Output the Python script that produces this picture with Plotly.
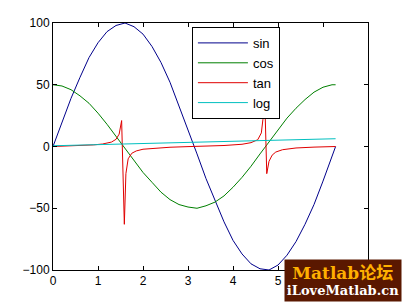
import plotly.graph_objects as go

# sampled x positions for sin / cos curves
x_sc = [0, 0.2, 0.4, 0.6, 0.8, 1.0, 1.2, 1.4, 1.6, 1.8, 2.0, 2.2, 2.4, 2.6, 2.8, 3.0,
        3.2, 3.4, 3.6, 3.8, 4.0, 4.2, 4.4, 4.6, 4.8, 5.0, 5.2, 5.4, 5.6, 5.8, 6.0, 6.2, 6.28]
sin_vals = [0, 20, 39, 56, 72, 84, 93, 98, 100, 97, 91, 81, 68, 52, 33, 14,
            -6, -26, -44, -61, -76, -87, -95, -99, -100, -96, -88, -77, -63, -47, -28, -8, 0]
cos_vals = [50, 49, 46, 41, 35, 27, 18, 8, -1, -11, -21, -29, -37, -43, -47, -49,
            -50, -48, -45, -40, -33, -25, -16, -6, 4, 14, 23, 31, 38, 44, 48, 50, 50]

x_tan = [0, 0.3, 0.6, 0.9, 1.1, 1.3, 1.4, 1.47, 1.525, 1.585, 1.62, 1.67, 1.75, 1.85, 2.0,
         2.3, 2.6, 3.0, 3.4, 3.8, 4.2, 4.4, 4.55, 4.63, 4.665, 4.69, 4.75, 4.8, 4.87,
         4.95, 5.1, 5.4, 5.8, 6.28]
tan_vals = [0, 0.3, 0.7, 1.3, 2.0, 3.6, 5.8, 10, 21, -63, -22, -10, -5.5, -3.6, -2.2,
            -1.1, -0.6, -0.1, 0.3, 0.8, 1.8, 3.1, 5.5, 11, 22, 60, -22, -12, -7,
            -4.5, -2.6, -1.2, -0.5, 0]

x_log = [0, 1, 2, 3, 4, 5, 6, 6.28]
log_vals = [0.6, 1.5, 2.4, 3.2, 4.1, 5.0, 5.9, 6.3]

x_ticks = [0, 1, 2, 3, 4, 5, 6, 7]
y_ticks = [-100, -50, 0, 50, 100]

fig = go.Figure()
fig.add_trace(go.Scatter(x=x_sc, y=sin_vals, mode="lines", name="sin",
                         line=dict(color="#00008B", width=1)))
fig.add_trace(go.Scatter(x=x_sc, y=cos_vals, mode="lines", name="cos",
                         line=dict(color="#007F00", width=1)))
fig.add_trace(go.Scatter(x=x_tan, y=tan_vals, mode="lines", name="tan",
                         line=dict(color="#E00000", width=1)))
fig.add_trace(go.Scatter(x=x_log, y=log_vals, mode="lines", name="log",
                         line=dict(color="#00BFBF", width=1)))

axis_common = dict(showgrid=False, zeroline=False, showline=True, linecolor="black",
                   linewidth=1, mirror="allticks", ticks="inside", ticklen=4,
                   tickcolor="black", tickfont=dict(family="Liberation Sans, Arial",
                                                    size=12, color="black"))
fig.update_xaxes(range=[0, 7], tickvals=x_ticks, **axis_common)
fig.update_yaxes(range=[-100, 100], tickvals=y_ticks, **axis_common)

fig.update_layout(
    width=406, height=305,
    margin=dict(l=53, r=38, t=23, b=35),
    paper_bgcolor="white", plot_bgcolor="white",
    showlegend=True,
    legend=dict(x=0.441, y=0.984, xanchor="left", yanchor="top",
                bgcolor="white", bordercolor="black", borderwidth=1,
                font=dict(family="Liberation Sans, Arial", size=13, color="black"),
                itemwidth=50, entrywidth=92, tracegroupgap=0),
    annotations=[
        dict(xref="paper", yref="paper", x=(343 - 53) / 315, y=(270 - 280) / 247,
             xanchor="center", yanchor="middle", width=116, height=41,
             bgcolor="#5a1800", borderpad=0,
             text=("<b><span style='color:#FFB000;font-size:17px'>Matlab论坛</span><br>"
                   "<span style='color:white;font-size:13px'>iLoveMatlab.cn</span></b>"),
             showarrow=False,
             font=dict(family="DejaVu Serif, Noto Sans CJK SC", size=13, color="white")),
    ],
)

fig.write_html("out.html")
